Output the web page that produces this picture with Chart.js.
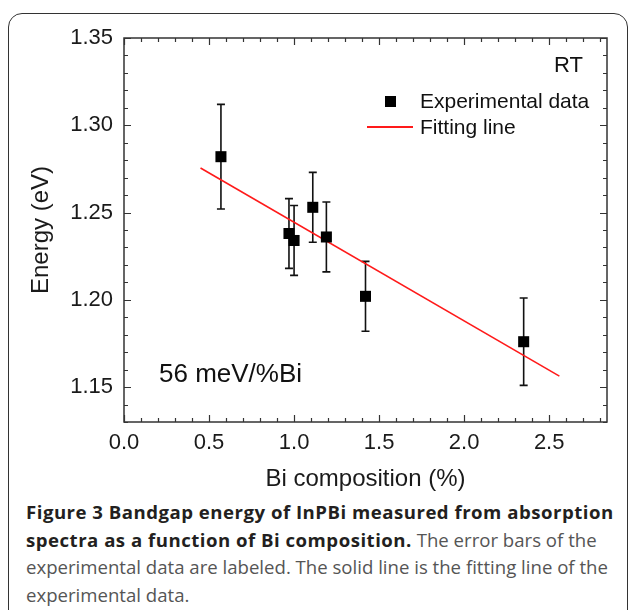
<!DOCTYPE html>
<html>
<head>
<meta charset="utf-8">
<script src="https://cdn.jsdelivr.net/npm/chart.js@4"></script>
<style>
  html, body { margin: 0; padding: 0; background: #fff; }
  body { width: 629px; height: 610px; position: relative; overflow: hidden; font-family: "Liberation Sans", Arial, sans-serif; }
  #frame { position: absolute; left: 8px; top: 13px; width: 620px; height: 650px; border: 1.5px solid #333; border-radius: 14px; box-sizing: border-box; }
  #wrap { position: absolute; left: 0; top: 0; width: 629px; height: 496px; }
  .note { position: absolute; color: #111; white-space: nowrap; line-height: 1; }
  #legendBox { position: absolute; left: 385px; top: 96px; width: 11px; height: 11px; background: #000; }
  #legendLine { position: absolute; left: 367px; top: 126px; width: 46px; height: 1.6px; background: #ff1a1a; }
  #caption { position: absolute; left: 26px; top: 498px; font-family: "Open Sans", sans-serif; font-size: 18.6px; line-height: 27.5px; color: #555; white-space: nowrap; }
  #caption b { color: #231f20; letter-spacing: 0.5px; }
</style>
</head>
<body>
<div id="frame"></div>
<div id="wrap"><canvas id="chart" width="629" height="496"></canvas></div>

<div class="note" style="right:46px; top:54px; font-size:22px;">RT</div>
<div id="legendBox"></div>
<div class="note" style="left:420px; top:90px; font-size:21px;">Experimental data</div>
<div id="legendLine"></div>
<div class="note" style="left:420px; top:116px; font-size:21px;">Fitting line</div>
<div class="note" style="left:159px; top:360px; font-size:26px;">56 meV/%Bi</div>

<div id="caption">
  <b>Figure 3 Bandgap energy of InPBi measured from absorption</b><br>
  <b>spectra as a function of Bi composition.</b> The error bars of the<br>
  experimental data are labeled. The solid line is the fitting line of the<br>
  experimental data.
</div>

<script>
// measured points (Bi %, eV) and their error bars
const biComp = [0.57, 0.97, 1.00, 1.11, 1.19, 1.42, 2.35];
const energy = [1.282, 1.238, 1.234, 1.253, 1.236, 1.202, 1.176];
const energyErr = [0.030, 0.020, 0.020, 0.020, 0.020, 0.020, 0.025];

// fitting line end points (56 meV/%Bi)
const fitX = [0.45, 2.56];
const fitY = [1.2755, 1.1563];

// axis ticks
const xTicks = [0.0, 0.5, 1.0, 1.5, 2.0, 2.5];
const xTickLabels = ["0.0", "0.5", "1.0", "1.5", "2.0", "2.5"];
const yTicks = [1.15, 1.20, 1.25, 1.30, 1.35];
const yTickLabels = ["1.15", "1.20", "1.25", "1.30", "1.35"];

const xMin = 0, xMax = 2.84;
const yMin = 1.13, yMax = 1.35;

const ink = "#1a1a1a";

// error bars, drawn under the squares
const errorBars = {
    id: "errorBars",
    beforeDatasetsDraw(chart) {
        const ctx = chart.ctx;
        const xs = chart.scales.x, ys = chart.scales.y;
        ctx.save();
        ctx.strokeStyle = "#111";
        ctx.lineWidth = 1.6;
        for (let i = 0; i < biComp.length; i++) {
            const px = xs.getPixelForValue(biComp[i]);
            const top = ys.getPixelForValue(energy[i] + energyErr[i]);
            const bot = ys.getPixelForValue(energy[i] - energyErr[i]);
            ctx.beginPath();
            ctx.moveTo(px, top); ctx.lineTo(px, bot);
            ctx.moveTo(px - 4, top); ctx.lineTo(px + 4, top);
            ctx.moveTo(px - 4, bot); ctx.lineTo(px + 4, bot);
            ctx.stroke();
        }
        ctx.restore();
    }
};

// closed frame with inward ticks on all four sides
const frameTicks = {
    id: "frameTicks",
    afterDraw(chart) {
        const ctx = chart.ctx;
        const a = chart.chartArea;
        const xs = chart.scales.x, ys = chart.scales.y;
        ctx.save();
        ctx.strokeStyle = "#333";
        ctx.lineWidth = 1.5;
        ctx.strokeRect(a.left, a.top, a.right - a.left, a.bottom - a.top);
        ctx.lineWidth = 1.2;
        ctx.beginPath();
        // x: minor every 0.1, major every 0.5
        for (let i = 0; i / 10 <= xMax; i++) {
            const px = Math.round(xs.getPixelForValue(i / 10)) + 0.5;
            const len = i % 5 === 0 ? 7 : 4;
            ctx.moveTo(px, a.bottom); ctx.lineTo(px, a.bottom - len);
            ctx.moveTo(px, a.top); ctx.lineTo(px, a.top + len);
        }
        // y: minor every 0.01, major every 0.05
        for (let i = 113; i <= 135; i++) {
            const py = Math.round(ys.getPixelForValue(i / 100)) + 0.5;
            const len = i % 5 === 0 ? 7 : 4;
            ctx.moveTo(a.left, py); ctx.lineTo(a.left + len, py);
            ctx.moveTo(a.right, py); ctx.lineTo(a.right - len, py);
        }
        ctx.stroke();
        ctx.restore();
    }
};

const ctx = document.getElementById("chart").getContext("2d");

new Chart(ctx, {
    type: "scatter",
    data: {
        datasets: [
            {
                label: "Experimental data",
                data: biComp.map((x, i) => ({ x: x, y: energy[i] })),
                pointStyle: "rect",
                pointRadius: 7.8,
                pointHoverRadius: 7.8,
                backgroundColor: "#000",
                borderWidth: 0
            },
            {
                label: "Fitting line",
                data: fitX.map((x, i) => ({ x: x, y: fitY[i] })),
                showLine: true,
                borderColor: "#ff1a1a",
                borderWidth: 1.6,
                pointRadius: 0
            }
        ]
    },
    options: {
        responsive: false,
        animation: false,
        devicePixelRatio: 1,
        layout: { padding: { top: 38, right: 22, bottom: 0, left: 0 } },
        plugins: {
            legend: { display: false },
            tooltip: { enabled: false }
        },
        scales: {
            x: {
                type: "linear",
                min: xMin,
                max: xMax,
                afterBuildTicks: s => { s.ticks = xTicks.map(v => ({ value: v })); },
                afterFit: s => { s.height = 74; },
                grid: { display: false, drawTicks: false },
                border: { display: false },
                ticks: {
                    padding: 8,
                    color: ink,
                    font: { family: "Liberation Sans", size: 22 },
                    callback: (v, i) => xTickLabels[i]
                },
                title: {
                    display: true,
                    text: "Bi composition (%)",
                    color: ink,
                    font: { family: "Liberation Sans", size: 24 },
                    padding: { top: 4, bottom: 2 }
                }
            },
            y: {
                type: "linear",
                min: yMin,
                max: yMax,
                afterBuildTicks: s => { s.ticks = yTicks.map(v => ({ value: v })); },
                afterFit: s => { s.width = 124; },
                grid: { display: false, drawTicks: false },
                border: { display: false },
                ticks: {
                    padding: 11,
                    color: ink,
                    font: { family: "Liberation Sans", size: 22 },
                    callback: (v, i) => yTickLabels[i]
                },
                title: {
                    display: true,
                    text: "Energy (eV)",
                    color: ink,
                    font: { family: "Liberation Sans", size: 24 },
                    padding: { top: 27, bottom: 0 }
                }
            }
        }
    },
    plugins: [errorBars, frameTicks]
});
</script>
</body>
</html>
